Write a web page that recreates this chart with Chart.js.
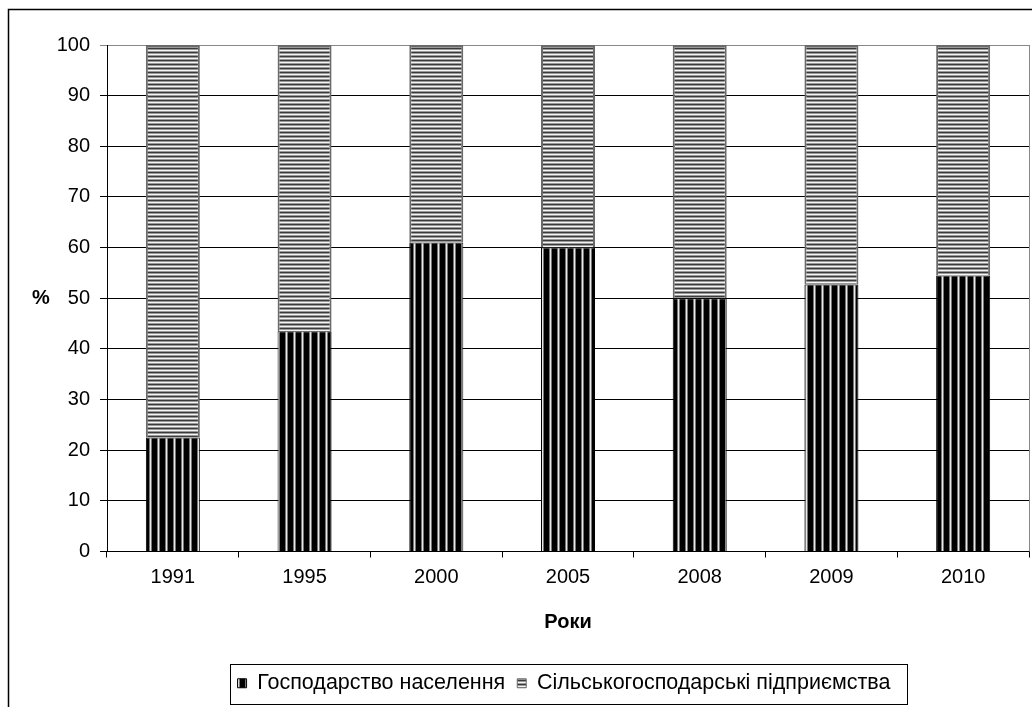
<!DOCTYPE html>
<html>
<head>
<meta charset="utf-8">
<script src="https://cdn.jsdelivr.net/npm/chart.js@4/dist/chart.umd.min.js"></script>
<style>
  html, body { margin: 0; padding: 0; background: #fff; }
  #wrap { width: 1032px; height: 707px; }
</style>
</head>
<body>
<div id="wrap"><canvas id="chart" width="1032" height="707"></canvas></div>
<script>
// Data
const years = ['1991', '1995', '2000', '2005', '2008', '2009', '2010'];
const households = [22.5, 43.5, 61, 60, 50, 52.7, 54.5];
const enterprises = [77.5, 56.5, 39, 40, 50, 47.3, 45.5];
const seriesNames = ['Господарство населення', 'Сільськогосподарські підприємства'];
const yTicks = [0, 10, 20, 30, 40, 50, 60, 70, 80, 90, 100];

const FONT = '"Liberation Sans", Arial, sans-serif';

// Fill patterns: vertical stripes (columns) or horizontal stripes (rows)
function makePattern(colours, vertical) {
  const n = colours.length;
  const c = document.createElement('canvas');
  c.width = vertical ? n : 4;
  c.height = vertical ? 4 : n;
  const g = c.getContext('2d');
  colours.forEach((col, i) => {
    g.fillStyle = col;
    if (vertical) g.fillRect(i, 0, 1, c.height);
    else g.fillRect(0, i, c.width, 1);
  });
  return g.createPattern(c, 'repeat');
}
const ctx = document.getElementById('chart').getContext('2d');
const blackStripes = makePattern(['#000', '#000', '#000', '#000', '#000', '#777', '#e8e8e8', '#777'], true);
const greyStripes = makePattern(['#3a3a3a', '#9a9a9a', '#f4f4f4', '#9a9a9a'], false);

// Frame, plot border, "%" label and legend box
const decorations = {
  id: 'decorations',
  afterLayout(chart) {
    // centre the legend under the plot area, not the whole canvas
    const lg = chart.legend;
    const shift = (chart.chartArea.left + chart.chartArea.right) / 2 - (lg.left + lg.right) / 2 - 4;
    lg.left += shift;
    lg.right += shift;
  },
  beforeDatasetsDraw(chart) {
    const { ctx, chartArea } = chart;
    ctx.save();
    ctx.strokeStyle = '#888';
    ctx.lineWidth = 1;
    ctx.beginPath();
    ctx.moveTo(chartArea.right + 0.5, chartArea.top);
    ctx.lineTo(chartArea.right + 0.5, chartArea.bottom);
    ctx.stroke();
    ctx.restore();
  },
  afterDraw(chart) {
    const { ctx, chartArea } = chart;
    ctx.save();
    // outer frame (right/bottom edges fall outside the picture)
    ctx.strokeStyle = '#000';
    ctx.lineWidth = 1.5;
    ctx.strokeRect(8.5, 9.5, 1100, 1100);
    // axis label "%"
    ctx.fillStyle = '#000';
    ctx.font = 'bold 20px ' + FONT;
    ctx.textAlign = 'center';
    ctx.textBaseline = 'middle';
    ctx.fillText('%', 41, (chartArea.top + chartArea.bottom) / 2);
    // legend border
    const boxes = chart.legend.legendHitBoxes;
    if (boxes && boxes.length) {
      const l = Math.min(...boxes.map(b => b.left));
      const r = Math.max(...boxes.map(b => b.left + b.width));
      const t = Math.min(...boxes.map(b => b.top));
      const b = Math.max(...boxes.map(b => b.top + b.height));
      ctx.lineWidth = 1;
      ctx.strokeRect(Math.round(l - 8) + 0.5, Math.round(t - 9) + 0.5, Math.round(r - l + 24), Math.round(b - t + 18));
    }
    ctx.restore();
  }
};

new Chart(ctx, {
  type: 'bar',
  data: {
    labels: years,
    datasets: [
      {
        label: seriesNames[0],
        data: households,
        backgroundColor: blackStripes,
        borderColor: '#000',
        borderWidth: 1,
        categoryPercentage: 1,
        barPercentage: 0.41
      },
      {
        label: seriesNames[1],
        data: enterprises,
        backgroundColor: greyStripes,
        borderColor: '#6a6a6a',
        borderWidth: 2,
        categoryPercentage: 1,
        barPercentage: 0.41
      }
    ]
  },
  options: {
    responsive: false,
    animation: false,
    layout: { padding: { top: 45, right: 3, bottom: 3, left: 0 } },
    plugins: {
      tooltip: { enabled: false },
      legend: {
        position: 'bottom',
        labels: {
          color: '#000',
          font: { family: FONT, size: 21.5 },
          boxWidth: 9,
          boxHeight: 9,
          padding: 12,
          generateLabels(chart) {
            return chart.data.datasets.map((ds, i) => ({
              text: ds.label,
              fillStyle: ds.backgroundColor,
              strokeStyle: i === 0 ? '#000' : '#6a6a6a',
              lineWidth: 1,
              datasetIndex: i,
              hidden: false,
              fontColor: '#000'
            }));
          }
        }
      }
    },
    scales: {
      x: {
        stacked: true,
        afterFit(scale) { scale.height = 109; },
        grid: {
          display: true,
          drawOnChartArea: false,
          offset: true,
          color: '#000',
          tickLength: 6
        },
        border: { color: '#000', width: 1 },
        ticks: { color: '#000', font: { family: FONT, size: 20 }, padding: 8, maxRotation: 0 },
        title: {
          display: true,
          text: 'Роки',
          color: '#000',
          font: { family: FONT, size: 20, weight: 'bold' },
          padding: { top: 0, bottom: 26 }
        }
      },
      y: {
        stacked: true,
        min: 0,
        max: 100,
        afterFit(scale) { scale.width = 107; },
        afterBuildTicks(scale) { scale.ticks = yTicks.map(v => ({ value: v })); },
        grid: {
          color: (c) => (c.tick && c.tick.value === 100 ? '#888' : '#000'),
          lineWidth: 1,
          tickLength: 7
        },
        border: { color: '#000', width: 1 },
        ticks: { color: '#000', font: { family: FONT, size: 20 }, padding: 10 }
      }
    }
  },
  plugins: [decorations]
});
</script>
</body>
</html>
